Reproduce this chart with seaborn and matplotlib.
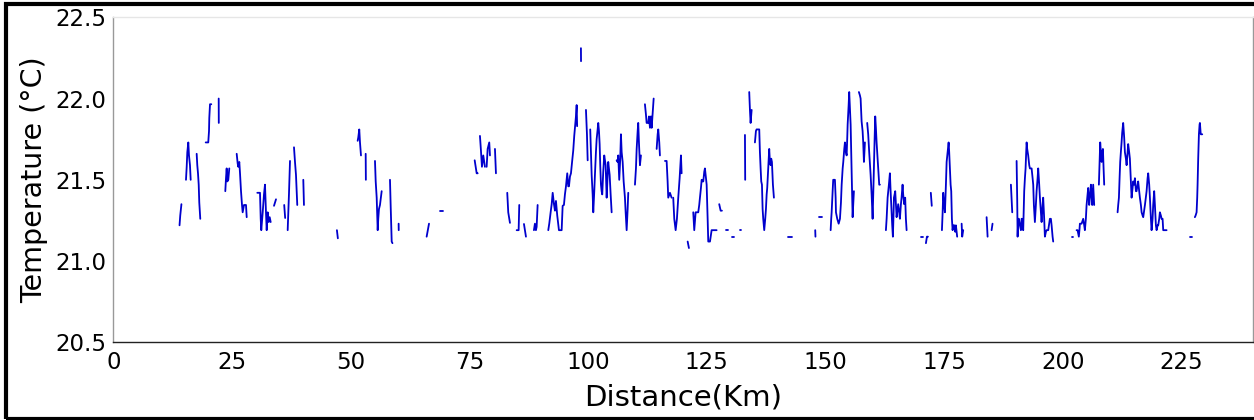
import numpy as np
import pandas as pd
import matplotlib
matplotlib.use("Agg")
import matplotlib.pyplot as plt
from matplotlib.patches import Rectangle
import seaborn as sns

nan = np.nan

# Distance along the transect (km); NaN marks a gap in the logger record
distance_km = [
    13.95, 14.1, 14.35, nan,
    15.31, 15.46, 15.59, 15.8, 15.94, 16.15, 16.3, nan,
    17.56, 17.69, 17.84, 17.99, 18.11, 18.32, nan,
    19.46, 20.0, 20.16, 20.22, 20.37, 20.64, nan,
    22.2, 22.22, nan,
    23.59, 23.74, 23.88, 24.01, 24.22, 24.43, nan,
    25.99, 26.2, 26.33, 26.54, 26.69, 26.9, 27.11, 27.25, 27.53, 27.95, 28.1, nan,
    30.33, 30.9, 31.05, 31.17, 31.47, 31.74, 31.95, 32.16, 32.31, 32.52, 32.73, 32.94, 33.15, nan,
    33.85, 34.27, nan,
    36.0, 36.2, nan,
    36.73, 37.0, 37.22, nan,
    38.06, 38.27, 38.48, 38.75, nan,
    40.02, 40.16, nan,
    47.1, 47.3, nan,
    51.47, 51.6, 51.81, 51.96, 52.17, nan,
    53.16, 53.2, nan,
    55.12, 55.27, 55.48, 55.69, 55.81, 55.96, 56.17, 56.53, nan,
    58.28, 58.42, 58.64, 58.8, nan,
    60.1, 60.12, nan,
    66.0, 66.5, nan,
    68.8, 69.4, nan,
    76.12, 76.54, 76.75, nan,
    77.23, 77.44, 77.65, 77.93, 78.28, nan,
    78.64, 78.85, 79.19, 79.34, nan,
    80.39, 80.6, nan,
    82.98, 83.19, 83.55, nan,
    84.96, 85.38, 85.51, nan,
    86.5, 86.92, nan,
    88.6, 88.81, 89.02, 89.17, 89.38, nan,
    91.62, 91.83, 92.12, 92.34, 92.55, 92.82, 93.03, 93.24, 93.51, 93.87, 94.44,
    94.65, 94.92, 95.13, 95.35, 95.62, 95.83, 95.98, 96.19, 96.4, 96.67, 96.88,
    97.09, 97.24, 97.45, 97.6, 97.7, nan,
    98.5, 98.52, nan,
    99.56, 99.77, 99.92, nan,
    100.46, 100.61, 100.76, 100.97, 101.1, 101.31, 101.45, 101.66, 101.81, 102.02,
    102.15, 102.3, 102.44, 102.57, 102.72, 102.86, 102.99, 103.2, 103.41, 103.56,
    103.71, 103.92, 104.13, 104.25, 104.4, 104.55, 104.76, 104.97, nan,
    106.02, 106.23, 106.36, 106.57, 106.78, 106.93, 107.08, 107.29, 107.5, 107.77,
    107.92, 108.13, 108.34, 108.47, nan,
    109.88, 110.09, 110.24, 110.45, 110.57, 110.72, 110.93, 111.14, nan,
    111.98, 112.2, 112.34, 112.68, 112.83, 113.04, 113.25, 113.4, 113.82, nan,
    114.45, 114.66, 114.79, 115.0, 115.14, nan,
    116.2, 116.55, 116.76, 116.89, 117.25, 117.6, nan,
    117.94, 118.16, 118.45, 118.72, 119.0, 119.29, 119.57, 119.71, nan,
    120.98, 121.25, nan,
    122.16, 122.37, 122.66, 123.21, 123.42, 123.57, 123.78, 123.93, 124.14, 124.27,
    124.48, 124.62, 124.84, 124.98, 125.19, 125.32, 125.68, 126.03, 127.08, nan,
    127.63, 127.93, 128.2, nan,
    129.1, 129.4, nan,
    130.4, 130.8, nan,
    132.0, 132.3, nan,
    133.05, 133.1, nan,
    133.95, 134.03, 134.1, 134.24, 134.46, nan,
    135.15, 135.36, 135.5, 136.06, 136.2, 136.35, 136.48, 136.63, 136.77, 136.9,
    137.11, 137.32, 137.47, 137.62, 137.74, 137.95, 138.16, 138.31, 138.46, 138.58,
    138.73, 138.94, 139.15, nan,
    142.1, 143.0, nan,
    147.85, 147.9, nan,
    148.6, 149.2, nan,
    151.1, 151.22, 151.31, 151.52, 151.64, 152.0, 152.15, 152.22, 152.49, 152.79,
    153.06, 153.27, 153.42, 153.63, 153.76, 153.97, 154.11, 154.33, 154.47, 154.6,
    154.68, 154.89, 155.01, 155.16, 155.31, 155.52, 155.73, 155.86, 156.0, nan,
    157.05, 157.26, 157.41, 157.62, 157.83, 157.96, 158.11, 158.32, nan,
    158.8, 159.01, 159.22, 159.52, 159.73, 159.94, 160.07, 160.21, 160.36, 160.49,
    160.63, 160.78, 160.99, 161.12, 161.33, 161.47, nan,
    162.74, 162.89, 163.1, 163.37, 163.58, 163.73, 163.94, 164.07, 164.21, 164.36,
    164.43, 164.57, 164.7, 164.85, 164.99, 165.12, 165.33, 165.54, 165.69, 165.9,
    166.04, 166.25, 166.38, 166.59, 166.8, 166.95, 167.1, nan,
    170.05, 170.6, nan,
    171.17, 171.38, 171.59, nan,
    172.2, 172.4, nan,
    174.54, 174.69, 174.81, 175.02, 175.17, 175.38, 175.53, 175.74, 175.95, 176.07,
    176.22, 176.37, 176.5, 176.64, 176.79, 176.92, 177.13, 177.34, 177.48, 177.75, nan,
    178.69, 178.81, 179.02, nan,
    183.95, 184.16, nan,
    185.0, 185.2, nan,
    189.07, 189.35, nan,
    190.27, 190.4, 190.48, 190.61, 190.75, 190.96, 191.18, 191.32, 191.45, 191.66,
    191.87, 192.02, 192.16, 192.29, 192.38, 192.5, 192.71, 192.93, 193.07, 193.43,
    193.64, 193.77, 193.91, 194.12, 194.33, 194.48, 194.69, 194.82, 195.03, 195.18,
    195.39, 195.53, 195.75, 195.87, 196.08, 196.23, 196.44, 196.59, 196.93, 197.28,
    197.49, 197.64, 197.85, 197.98, nan,
    201.98, 202.2, nan,
    202.9, 203.11, 203.38, 203.53, 203.6, 203.96, 204.3, 204.51, 204.65, 204.86,
    205.01, 205.22, 205.35, 205.56, 205.71, 205.92, 206.07, 206.19, 206.4, 206.61, nan,
    207.6, 207.75, 207.88, 208.02, 208.17, 208.3, 208.45, 208.59, 208.72, nan,
    211.54, 211.67, 211.82, 211.96, 212.09, 212.23, 212.38, 212.51, 212.72, 212.93,
    213.08, 213.29, 213.44, 213.65, 213.77, 213.98, 214.13, 214.34, 214.49, 214.7,
    214.83, 215.04, 215.19, 215.4, 215.54, 215.75, 215.88, 216.09, 216.24, 216.45,
    216.6, 216.81, 216.94, 217.3, 217.65, 217.86, 217.99, 218.2, 218.35, 218.56,
    218.7, 218.91, 219.04, 219.25, 219.4, 219.61, 219.76, 219.97, 220.1, 220.31,
    220.45, 220.66, 220.81, 221.02, 221.15, 221.86, nan,
    226.77, 227.13, nan,
    227.82, 227.97, 228.18, 228.31, 228.39, 228.52, 228.67, 228.81, 228.88, 229.03,
    229.09, 229.37,
]

# Water temperature (°C) at each distance
temperature_c = [
    21.22, 21.28, 21.35, nan,
    21.5, 21.58, 21.67, 21.73, 21.65, 21.59, 21.5, nan,
    21.66, 21.59, 21.54, 21.47, 21.36, 21.26, nan,
    21.73, 21.73, 21.8, 21.88, 21.965, 21.965, nan,
    22.0, 21.85, nan,
    21.43, 21.51, 21.57, 21.49, 21.5, 21.57, nan,
    21.66, 21.6, 21.58, 21.61, 21.54, 21.43, 21.345, 21.3, 21.345, 21.345, 21.27, nan,
    21.42, 21.42, 21.26, 21.19, 21.3, 21.41, 21.47, 21.3, 21.19, 21.3, 21.24, 21.27, 21.24, nan,
    21.34, 21.38, nan,
    21.345, 21.265, nan,
    21.19, 21.41, 21.616, nan,
    21.7, 21.61, 21.53, 21.345, nan,
    21.5, 21.345, nan,
    21.19, 21.14, nan,
    21.74, 21.76, 21.81, 21.73, 21.65, nan,
    21.66, 21.5, nan,
    21.616, 21.49, 21.39, 21.19, 21.26, 21.32, 21.345, 21.43, nan,
    21.5, 21.345, 21.12, 21.11, nan,
    21.23, 21.19, nan,
    21.15, 21.23, nan,
    21.31, 21.31, nan,
    21.62, 21.54, 21.54, nan,
    21.77, 21.68, 21.58, 21.65, 21.58, nan,
    21.58, 21.69, 21.73, 21.65, nan,
    21.69, 21.54, nan,
    21.42, 21.3, 21.235, nan,
    21.19, 21.19, 21.345, nan,
    21.228, 21.15, nan,
    21.19, 21.23, 21.19, 21.21, 21.345, nan,
    21.19, 21.23, 21.3, 21.35, 21.42, 21.35, 21.31, 21.37, 21.28, 21.19, 21.19,
    21.34, 21.345, 21.41, 21.46, 21.54, 21.46, 21.46, 21.52, 21.54, 21.62, 21.68,
    21.77, 21.82, 21.89, 21.96, 21.83, nan,
    22.31, 22.23, nan,
    21.93, 21.78, 21.62, nan,
    21.81, 21.67, 21.53, 21.41, 21.3, 21.43, 21.53, 21.67, 21.75, 21.81,
    21.85, 21.8, 21.72, 21.59, 21.47, 21.43, 21.41, 21.55, 21.65, 21.62,
    21.59, 21.39, 21.53, 21.61, 21.57, 21.53, 21.41, 21.3, nan,
    21.62, 21.61, 21.65, 21.5, 21.63, 21.78, 21.67, 21.61, 21.49, 21.39,
    21.3, 21.19, 21.32, 21.42, nan,
    21.47, 21.57, 21.69, 21.8, 21.85, 21.73, 21.59, 21.65, nan,
    21.965, 21.9, 21.85, 21.85, 21.89, 21.82, 21.89, 21.82, 22.0, nan,
    21.69, 21.78, 21.81, 21.73, 21.65, nan,
    21.616, 21.616, 21.49, 21.39, 21.42, 21.39, nan,
    21.39, 21.26, 21.19, 21.26, 21.39, 21.51, 21.65, 21.54, nan,
    21.12, 21.08, nan,
    21.3, 21.19, 21.3, 21.3, 21.345, 21.39, 21.45, 21.5, 21.49, 21.49,
    21.55, 21.57, 21.51, 21.47, 21.26, 21.12, 21.12, 21.19, 21.19, nan,
    21.35, 21.31, 21.31, nan,
    21.19, 21.19, nan,
    21.15, 21.15, nan,
    21.19, 21.19, nan,
    21.776, 21.5, nan,
    22.04, 21.98, 21.93, 21.85, 21.93, nan,
    21.73, 21.8, 21.81, 21.81, 21.67, 21.57, 21.49, 21.47, 21.32, 21.26,
    21.19, 21.26, 21.32, 21.41, 21.45, 21.57, 21.69, 21.61, 21.59, 21.63,
    21.61, 21.47, 21.39, nan,
    21.15, 21.15, nan,
    21.19, 21.15, nan,
    21.27, 21.27, nan,
    21.19, 21.26, 21.3, 21.43, 21.5, 21.5, 21.39, 21.3, 21.26, 21.23,
    21.26, 21.36, 21.47, 21.57, 21.61, 21.69, 21.73, 21.67, 21.65, 21.76,
    21.84, 21.96, 22.04, 21.94, 21.84, 21.55, 21.27, 21.35, 21.43, nan,
    22.04, 22.02, 22.0, 21.86, 21.8, 21.73, 21.61, 21.73, nan,
    21.85, 21.78, 21.67, 21.53, 21.41, 21.26, 21.41, 21.57, 21.75, 21.89,
    21.82, 21.73, 21.63, 21.57, 21.47, 21.47, nan,
    21.19, 21.26, 21.39, 21.47, 21.54, 21.43, 21.3, 21.22, 21.15, 21.3,
    21.39, 21.41, 21.43, 21.35, 21.27, 21.3, 21.35, 21.3, 21.26, 21.35,
    21.39, 21.47, 21.41, 21.35, 21.39, 21.26, 21.19, nan,
    21.15, 21.15, nan,
    21.11, 21.15, 21.15, nan,
    21.42, 21.34, nan,
    21.19, 21.3, 21.42, 21.345, 21.3, 21.47, 21.61, 21.67, 21.73, 21.67,
    21.57, 21.47, 21.43, 21.26, 21.19, 21.22, 21.22, 21.18, 21.22, 21.15, nan,
    21.23, 21.15, 21.19, nan,
    21.27, 21.15, nan,
    21.19, 21.23, nan,
    21.47, 21.3, nan,
    21.616, 21.37, 21.15, 21.26, 21.26, 21.22, 21.19, 21.26, 21.26, 21.19,
    21.43, 21.51, 21.57, 21.67, 21.73, 21.69, 21.65, 21.59, 21.57, 21.57,
    21.51, 21.47, 21.345, 21.24, 21.345, 21.43, 21.51, 21.57, 21.47, 21.39,
    21.3, 21.24, 21.345, 21.39, 21.26, 21.15, 21.18, 21.19, 21.19, 21.26,
    21.26, 21.22, 21.15, 21.12, nan,
    21.15, 21.15, nan,
    21.19, 21.19, 21.15, 21.2, 21.23, 21.23, 21.26, 21.22, 21.19, 21.26,
    21.345, 21.41, 21.45, 21.345, 21.39, 21.47, 21.41, 21.345, 21.47, 21.345, nan,
    21.47, 21.61, 21.73, 21.67, 21.61, 21.67, 21.69, 21.57, 21.47, nan,
    21.3, 21.345, 21.39, 21.51, 21.61, 21.67, 21.73, 21.79, 21.85, 21.76,
    21.67, 21.63, 21.59, 21.67, 21.72, 21.67, 21.63, 21.49, 21.39, 21.45,
    21.49, 21.47, 21.51, 21.43, 21.43, 21.47, 21.49, 21.43, 21.39, 21.345,
    21.3, 21.28, 21.27, 21.345, 21.43, 21.51, 21.54, 21.47, 21.39, 21.26,
    21.19, 21.26, 21.345, 21.43, 21.345, 21.22, 21.19, 21.22, 21.22, 21.26,
    21.3, 21.28, 21.26, 21.26, 21.19, 21.19, nan,
    21.15, 21.15, nan,
    21.27, 21.28, 21.3, 21.39, 21.47, 21.63, 21.78, 21.84, 21.85, 21.79,
    21.78, 21.78,
]

x_ticks = [0, 25, 50, 75, 100, 125, 150, 175, 200, 225]
y_ticks = [20.5, 21.0, 21.5, 22.0, 22.5]

# Split the record into continuous runs so that gaps stay open
df = pd.DataFrame({"distance": distance_km, "temperature": temperature_c})
df["run"] = df["distance"].isna().cumsum()
df = df.dropna().reset_index(drop=True)

sns.set_style("white")
plt.rcParams["font.family"] = ["DejaVu Sans"]
plt.rcParams["text.color"] = "black"
plt.rcParams["axes.labelcolor"] = "black"

fig = plt.figure(figsize=(12.54, 4.20), dpi=100)
ax = fig.add_axes([113.3 / 1254, 1 - 342.3 / 420, (1252.7 - 113.3) / 1254, (342.3 - 17.3) / 420])

sns.lineplot(
    data=df, x="distance", y="temperature", units="run", estimator=None,
    sort=False, color="#0000cd", linewidth=1.3, ax=ax, legend=False,
)

ax.set_xlim(0, 240)
ax.set_ylim(20.5, 22.5)
ax.set_xticks(x_ticks)
ax.set_yticks(y_ticks)
ax.set_yticklabels([f"{v:.1f}" for v in y_ticks])
ax.tick_params(axis="both", labelsize=16.5, length=3, width=0.8, color="#bbbbbb",
               direction="out", pad=2, labelcolor="black")
ax.tick_params(axis="x", pad=3)

ax.set_xlabel("Distance(Km)", fontsize=21, labelpad=7, color="black")
ax.set_ylabel("Temperature (°C)", fontsize=20.5, labelpad=5, color="black")

ax.spines["top"].set_color("#e6e6e6")
ax.spines["right"].set_color("#999999")
ax.spines["left"].set_color("#999999")
ax.spines["bottom"].set_color("#222222")
for s in ax.spines.values():
    s.set_linewidth(1.0)

# Heavy frame around the whole figure
fig.patches.append(Rectangle((6 / 1254, 1.5 / 420), 1.2, (418.5 - 3.5) / 420,
                             transform=fig.transFigure, fill=False,
                             edgecolor="black", linewidth=3.0, zorder=10))

fig.savefig("out.png", dpi=100, facecolor="white")
